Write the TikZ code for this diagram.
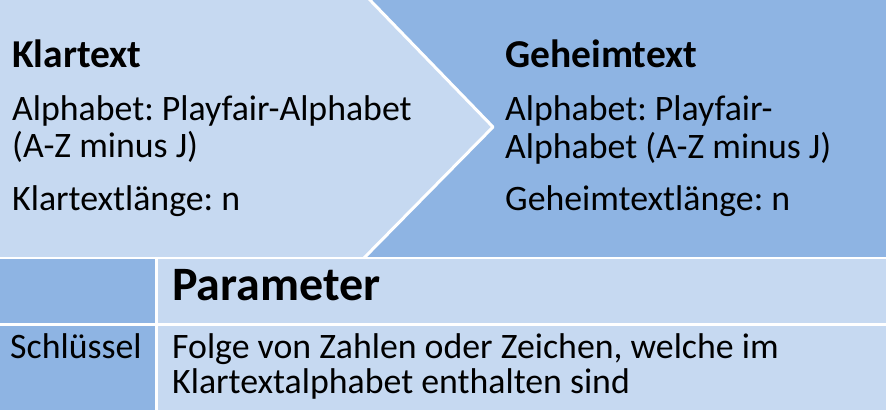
\documentclass[tikz,border=0pt]{standalone}
\usepackage{fontspec}
\setmainfont{Carlito}
\usetikzlibrary{positioning}
\frenchspacing

\definecolor{hell}{RGB}{198,217,241}
\definecolor{dunkel}{RGB}{142,180,227}

\tikzset{
  txt/.style={anchor=base west, inner sep=0pt, font=\fontsize{35.8}{40}\selectfont},
  kopf/.style={txt, font=\fontsize{39.5}{44}\selectfont\bfseries},
}

\begin{document}
\begin{tikzpicture}[x=1pt, y=-1pt, line join=round]
    \useasboundingbox (0,0) rectangle (886,410);
    % oberer Teil: Pfeil
    \fill[dunkel] (0,0) rectangle (886,257);
    \fill[hell] (0,0) -- (368,0) -- (493,127) -- (365,257) -- (0,257) -- cycle;
    \draw[white, line width=3pt] (368,-2) -- (493,127) -- (363,259);
    % Tabelle
    \fill[dunkel] (0,258) rectangle (155,410);
    \fill[hell] (158,258) rectangle (886,323);
    \fill[hell] (158,326) rectangle (886,410);
    \draw[white, line width=2pt] (0,257.5) -- (886,257.5);
    \draw[white, line width=3pt] (0,324.5) -- (886,324.5);
    \draw[white, line width=3pt] (156.5,258) -- (156.5,410);

    \node[kopf] (klar) at (12,67) {Klartext};
    \node[txt] (klar1) at (12,120) {Alphabet: Playfair-Alphabet};
    \node[txt] (klar2) at (12,157) {(A-Z minus J)};
    \node[txt] (klar3) at (12,210) {Klartextlänge: n};

    \node[kopf] (geh) at (505,67) {Geheimtext};
    \node[txt] (geh1) at (505,120) {Alphabet: Playfair-};
    \node[txt] (geh2) at (505,158) {Alphabet (A-Z minus J)};
    \node[txt] (geh3) at (505,210) {Geheimtextlänge: n};

    \node[txt, font=\fontsize{48}{52}\selectfont\bfseries] (param) at (172,300) {Parameter};
    \node[txt] (schl) at (10,358) {Schlüssel};
    \node[txt] (folge1) at (172,358) {Folge von Zahlen oder Zeichen, welche im};
    \node[txt] (folge2) at (172,393) {Klartextalphabet enthalten sind};
\end{tikzpicture}
\end{document}
